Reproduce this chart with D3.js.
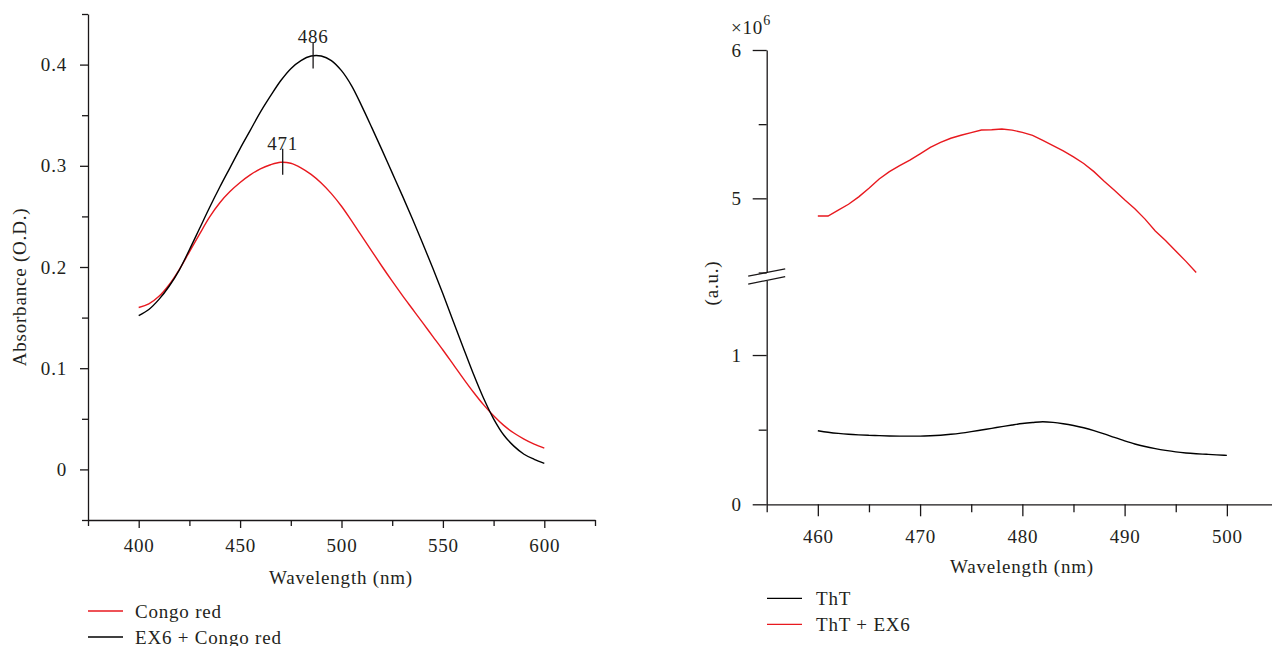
<!DOCTYPE html>
<html>
<head>
<meta charset="utf-8">
<script src="https://cdn.jsdelivr.net/npm/d3@7"></script>
<style>
body { margin: 0; background: #fff; }
text { font-family: "Liberation Serif", serif; font-size: 19px; letter-spacing: 0.8px; fill: #231f20; }
</style>
</head>
<body>
<div class="svg-container"></div>
<script>
// ---- left panel: absorbance (Congo red) ----
const absWave = [400,405,410,415,420,425,430,435,440,445,450,455,460,465,470,475,480,485,490,495,
                 500,505,510,515,520,525,530,535,540,545,550,555,560,565,570,575,580,585,590,595,600];
const congoRed = [0.160,0.1635,0.171,0.1825,0.1975,0.2150,0.2325,0.2495,0.2635,0.2745,0.2835,0.2910,0.2970,0.3010,0.3035,0.3025,0.2980,0.2915,0.2830,0.2725,
                  0.2600,0.2455,0.2305,0.2155,0.2005,0.1860,0.1720,0.1585,0.1450,0.1315,0.1180,0.1040,0.0900,0.0765,0.0640,0.0530,0.0435,0.0360,0.0300,0.0250,0.0210];
const ex6Congo = [0.152,0.158,0.168,0.181,0.197,0.217,0.238,0.259,0.279,0.298,0.317,0.335,0.353,0.369,0.384,0.396,0.404,0.4085,0.4085,0.404,
                  0.394,0.379,0.359,0.3375,0.3155,0.293,0.2705,0.2475,0.2235,0.1990,0.1735,0.1470,0.1205,0.0945,0.0705,0.0500,0.0340,0.0230,0.0150,0.0100,0.0060];
const absPeaks = [{ label: '486', wl: 486, v: 0.409 }, { label: '471', wl: 471, v: 0.304 }];
const absTicks = [0, 0.1, 0.2, 0.3, 0.4];
const absMinor = [-0.05, 0.05, 0.15, 0.25, 0.35, 0.45];
const absXTicks = [400, 450, 500, 550, 600];
const absXMinor = [375, 425, 475, 525, 575, 625];
const absLegend = ['Congo red', 'EX6 + Congo red'];

// ---- right panel: ThT fluorescence ----
const thtWave = [460,461,462,463,464,465,466,467,468,469,470,471,472,473,474,475,476,477,478,479,480,
                 481,482,483,484,485,486,487,488,489,490,491,492,493,494,495,496,497,498,499,500];
const tht = [0.493,0.483,0.475,0.469,0.465,0.462,0.460,0.458,0.457,0.457,0.457,0.459,0.463,0.469,0.477,0.487,0.498,0.509,0.520,0.531,0.541,
             0.548,0.553,0.549,0.540,0.528,0.513,0.494,0.472,0.448,0.425,0.404,0.387,0.373,0.361,0.351,0.344,0.339,0.335,0.331,0.328];
const thtEx6Wave = [460,461,462,463,464,465,466,467,468,469,470,471,472,473,474,475,476,477,478,
                    479,480,481,482,483,484,485,486,487,488,489,490,491,492,493,494,495,496,497];
const thtEx6 = [4.881,4.881,4.921,4.960,5.010,5.068,5.130,5.180,5.220,5.258,5.300,5.344,5.377,5.405,5.425,5.443,5.461,5.462,5.467,
                5.460,5.445,5.425,5.390,5.355,5.320,5.280,5.235,5.180,5.115,5.055,4.990,4.930,4.860,4.780,4.715,4.645,4.575,4.500];
const flXTicks = [460, 470, 480, 490, 500];
const flXMinor = [455, 465, 475, 485, 495, 505];
const flUpTicks = [5, 6], flUpMinor = [4.5, 5.5];
const flLowTicks = [0, 1], flLowMinor = [0.5];
const flLegend = ['ThT', 'ThT + EX6'];

const RED = '#e8191f';
const INK = '#1a1718';

const svg = d3.select('.svg-container')
    .append('svg')
    .attr('width', 1272)
    .attr('height', 646);

// helper to style an axis group
function styleAxis(g, keepDomain) {
    g.selectAll('line').attr('stroke', INK).attr('stroke-width', 1.3);
    g.select('.domain').attr('stroke', INK).attr('stroke-width', 1.3);
    if (!keepDomain) g.select('.domain').remove();
    g.selectAll('text').attr('fill', INK).style('font-size', '19px');
}

// ================= LEFT =================
const xA = d3.scaleLinear().domain([375, 625]).range([88, 595]);
const yA = d3.scaleLinear().domain([-0.05, 0.45]).range([520, 14]);

svg.append('g')
    .attr('transform', 'translate(0,520)')
    .call(d3.axisBottom(xA).tickValues(absXTicks).tickSize(8).tickSizeOuter(0).tickPadding(11).tickFormat(d3.format('d')))
    .call(g => styleAxis(g, true));
svg.append('g')
    .attr('transform', 'translate(0,520)')
    .call(d3.axisBottom(xA).tickValues(absXMinor).tickSize(6).tickFormat(''))
    .call(g => styleAxis(g, false));

svg.append('g')
    .attr('transform', 'translate(88,0)')
    .call(d3.axisLeft(yA).tickValues(absTicks).tickSize(8).tickSizeOuter(0).tickPadding(13).tickFormat(d => d === 0 ? '0' : d3.format('.1f')(d)))
    .call(g => styleAxis(g, true));
svg.append('g')
    .attr('transform', 'translate(88,0)')
    .call(d3.axisLeft(yA).tickValues(absMinor).tickSize(6).tickFormat(''))
    .call(g => styleAxis(g, false));

const lineA = d3.line()
    .x(d => xA(d[0]))
    .y(d => yA(d[1]))
    .curve(d3.curveCatmullRom);

svg.append('path')
    .attr('d', lineA(absWave.map((w, i) => [w, congoRed[i]])))
    .attr('fill', 'none').attr('stroke', RED).attr('stroke-width', 1.4);
svg.append('path')
    .attr('d', lineA(absWave.map((w, i) => [w, ex6Congo[i]])))
    .attr('fill', 'none').attr('stroke', '#000').attr('stroke-width', 1.4);

// peak markers
svg.selectAll('.peak-mark')
    .data(absPeaks)
    .join('line')
    .attr('class', 'peak-mark')
    .attr('x1', d => xA(d.wl)).attr('x2', d => xA(d.wl))
    .attr('y1', d => yA(d.v) - 13).attr('y2', d => yA(d.v) + 13)
    .attr('stroke', INK).attr('stroke-width', 1.3);
svg.selectAll('.peak-label')
    .data(absPeaks)
    .join('text')
    .attr('class', 'peak-label')
    .attr('x', d => xA(d.wl))
    .attr('y', d => yA(d.v) - 12)
    .attr('text-anchor', 'middle')
    .text(d => d.label);

svg.append('text')
    .attr('text-anchor', 'middle')
    .attr('transform', 'translate(26,287) rotate(-90)')
    .text('Absorbance (O.D.)');
svg.append('text')
    .attr('x', 341).attr('y', 584)
    .attr('text-anchor', 'middle')
    .text('Wavelength (nm)');

// legend
const legA = svg.selectAll('.leg-a')
    .data(absLegend)
    .join('g')
    .attr('class', 'leg-a')
    .attr('transform', (d, i) => `translate(88, ${611 + i * 26})`);
legA.append('line')
    .attr('x1', 0).attr('x2', 35)
    .attr('stroke', (d, i) => i === 0 ? RED : '#000').attr('stroke-width', 1.3);
legA.append('text')
    .attr('x', 47).attr('y', 6.5)
    .text(d => d);

// ================= RIGHT =================
const xF = d3.scaleLinear().domain([455, 505]).range([766.7, 1278]);
const yUp = d3.scaleLinear().domain([4.5, 6]).range([272.5, 50]);
const yLow = d3.scaleLinear().domain([0, 1.5]).range([504.3, 280.4]);

svg.append('g')
    .attr('transform', 'translate(0,504.3)')
    .call(d3.axisBottom(xF).tickValues(flXTicks).tickSize(12).tickSizeOuter(0).tickPadding(13).tickFormat(d3.format('d')))
    .call(g => styleAxis(g, true));
svg.append('g')
    .attr('transform', 'translate(0,504.3)')
    .call(d3.axisBottom(xF).tickValues(flXMinor).tickSize(8).tickFormat(''))
    .call(g => styleAxis(g, false));

[[yUp, flUpTicks, flUpMinor], [yLow, flLowTicks, flLowMinor]].forEach(([sc, major, minor]) => {
    svg.append('g')
        .attr('transform', 'translate(766.7,0)')
        .call(d3.axisLeft(sc).tickValues(major).tickSize(14).tickSizeOuter(0).tickPadding(11).tickFormat(d3.format('d')))
        .call(g => styleAxis(g, true));
    svg.append('g')
        .attr('transform', 'translate(766.7,0)')
        .call(d3.axisLeft(sc).tickValues(minor).tickSize(8).tickFormat(''))
        .call(g => styleAxis(g, false));
});

// axis break slashes
svg.selectAll('.break')
    .data([yUp(4.5), yLow(1.5)])
    .join('line')
    .attr('class', 'break')
    .attr('x1', 766.7 - 18.5).attr('x2', 766.7 + 18.5)
    .attr('y1', d => d + 3.7).attr('y2', d => d - 3.7)
    .attr('stroke', INK).attr('stroke-width', 1.3);

svg.append('path')
    .attr('d', d3.line().x(d => xF(d[0])).y(d => yLow(d[1])).curve(d3.curveMonotoneX)(thtWave.map((w, i) => [w, tht[i]])))
    .attr('fill', 'none').attr('stroke', '#000').attr('stroke-width', 1.4);
svg.append('path')
    .attr('d', d3.line().x(d => xF(d[0])).y(d => yUp(d[1]))(thtEx6Wave.map((w, i) => [w, thtEx6[i]])))
    .attr('fill', 'none').attr('stroke', RED).attr('stroke-width', 1.4);

// exponent label
const expo = svg.append('text').attr('x', 731).attr('y', 34);
expo.append('tspan').text('×10');
expo.append('tspan').attr('dy', -9).style('font-size', '14px').text('6');

svg.append('text')
    .attr('text-anchor', 'middle')
    .attr('transform', 'translate(718,283) rotate(-90)')
    .text('(a.u.)');
svg.append('text')
    .attr('x', 1022).attr('y', 573)
    .attr('text-anchor', 'middle')
    .text('Wavelength (nm)');

const legF = svg.selectAll('.leg-f')
    .data(flLegend)
    .join('g')
    .attr('class', 'leg-f')
    .attr('transform', (d, i) => `translate(767, ${598.3 + i * 26})`);
legF.append('line')
    .attr('x1', 0).attr('x2', 35)
    .attr('stroke', (d, i) => i === 0 ? '#000' : RED).attr('stroke-width', 1.3);
legF.append('text')
    .attr('x', 49).attr('y', 6.5)
    .text(d => d);
</script>
</body>
</html>
